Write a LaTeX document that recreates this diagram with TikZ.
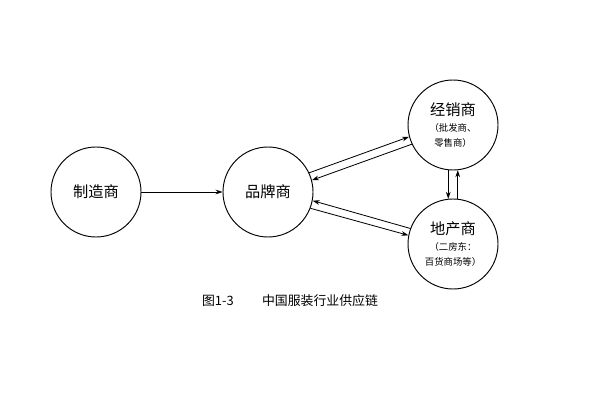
\documentclass[tikz,border=0pt]{standalone}
\usepackage{fontspec}
\setmainfont{Noto Sans CJK SC}
\usetikzlibrary{arrows.meta}
\begin{document}
\begin{tikzpicture}[x=0.03cm,y=-0.03cm,
  ent/.style={circle,draw,line width=0.8pt,minimum size=2.7cm,inner sep=0pt,align=center,font=\fontsize{13}{15}\selectfont},
  arr/.style={line width=0.7pt,-{Stealth[length=6pt,width=4pt]}}]
\useasboundingbox (0,0) rectangle (600,400);
\node[ent] (m) at (96,192) {制造商};
\node[ent] (b) at (268,192) {品牌商};
\node[ent] (j) at (453,125) {经销商\\[-1pt]{\fontsize{8}{11}\selectfont （批发商、}\\[-2pt]{\fontsize{8}{11}\selectfont 零售商）}};
\node[ent] (d) at (453,244) {地产商\\[-1pt]{\fontsize{8}{11}\selectfont （二房东：}\\[-2pt]{\fontsize{8}{11}\selectfont 百货商场等）}};
\draw[arr] (m) -- (b);
\draw[arr] (b.25) -- (j.195);
\draw[arr] (j.205) -- (b.15);
\draw[arr] (d.160) -- (b.-11);
\draw[arr] (b.-21) -- (d.169);
\draw[arr] (j.-96) -- (d.96);
\draw[arr] (d.84) -- (j.-84);
\node[font=\fontsize{11}{13}\selectfont] (cap) at (290,301) {图1-3\hspace{2.2em}中国服装行业供应链};
\end{tikzpicture}
\end{document}
